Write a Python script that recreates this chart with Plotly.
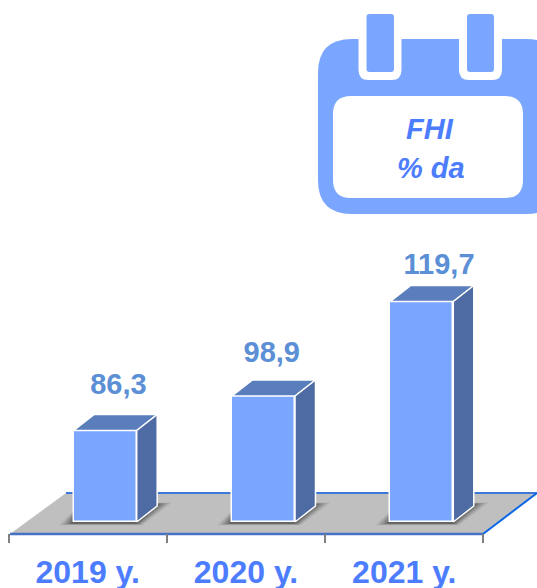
import plotly.graph_objects as go

categories = ["2019 y.", "2020 y.", "2021 y."]
value_labels = ["86,3", "98,9", "119,7"]
# Drawn bar heights (the reference is not proportional to its labels)
bar_heights = [91.5, 126, 220.5]
label_shift_x = [3, -2, 7]
label_shift_y = [28, 25, 19]

W, H = 537, 588
MB = 45
UX = 158.3
X0 = 87.7
BASE_PX = 522
BLUE = "#7AA6FF"
TOP = "#5A7DBB"
SIDE = "#4F6BA3"
WHITE = "#FFFFFF"
TXT = "#4D7DFF"
VAL = "#5B8FD6"

def ux(px):
    return (px - X0) / UX

def uy(px):
    return BASE_PX - px

def path_data(pts):
    return "M " + " L ".join(f"{ux(a):.4f},{uy(b):.2f}" for a, b in pts) + " Z"

def rrect(x0, y0, x1, y1, r):
    return (f"M{x0+r},{y0} L{x1-r},{y0} Q{x1},{y0} {x1},{y0+r} L{x1},{y1-r} Q{x1},{y1} {x1-r},{y1} "
            f"L{x0+r},{y1} Q{x0},{y1} {x0},{y1-r} L{x0},{y0+r} Q{x0},{y0} {x0+r},{y0} Z")

def to_data_path(s):
    # converts a pixel path to the axis coordinates
    out = []
    for tok in s.replace("M", "M ").replace("L", " L ").replace("Q", " Q ").replace("Z", " Z").split():
        if "," in tok:
            a, b = tok.split(",")
            out.append(f"{ux(float(a)):.4f},{uy(float(b)):.2f}")
        else:
            out.append(tok)
    return " ".join(out)

shapes = []
def add(path, fill, line_color=None, lw=0, layer="below"):
    shapes.append(dict(type="path", path=path, xref="x", yref="y", fillcolor=fill, layer=layer,
                       line=dict(color=line_color or fill, width=lw)))

def line(p, q, color, w):
    shapes.append(dict(type="line", xref="x", yref="y", x0=ux(p[0]), y0=uy(p[1]), x1=ux(q[0]), y1=uy(q[1]),
                       layer="below", line=dict(color=color, width=w)))

# floor
add(path_data([(10, 534), (66, 493), (537, 493), (483, 534)]), "#BFBFBF")
line((66, 493), (537, 493), "#3B78D8", 2)
line((483, 534), (537, 493), "#0A66E8", 2)
line((10, 534), (483, 534), "#4472C4", 2.5)

BAR_W = 63
OFF = 17.5 / UX
DX, DY = 20.5, 16

# soft shadows under the bars
for i in range(len(categories)):
    left = X0 + UX * i + 17.5 - BAR_W / 2
    right = left + BAR_W
    for g, alpha in [(14, 0.08), (11, 0.12), (8, 0.16), (5, 0.2), (2, 0.28)]:
        add(path_data([(left - 1 - g, 523.5 + g * 0.12), (right + g * 0.4, 523.5 + g * 0.12),
                       (right + DX + 1 + g, 504 - g * 0.1), (right + DX - 8, 504 - g * 0.1),
                       (right - 10, 516), (left, 516 - g * 0.4)]),
            f"rgba(40,40,40,{alpha})")

# calendar icon (white gaps, then pegs and the label panel)
add(to_data_path(rrect(318, 39, 560, 214, 34)), BLUE)
for n0, n1, p0, p1 in [(358.5, 401.5, 366.5, 394), (459, 502, 467, 494)]:
    add(to_data_path(f"M{n0},30 L{n1},30 L{n1},70 Q{n1},80 {n1-10},80 L{n0+10},80 Q{n0},80 {n0},70 Z"), WHITE)
    add(to_data_path(rrect(p0, 14, p1, 72, 3)), BLUE)
add(to_data_path(rrect(333, 96, 523, 198, 18)), WHITE)

fig = go.Figure()
x_pos = [i + OFF for i in range(len(categories))]
half = BAR_W / 2 / UX
fig.add_bar(x=x_pos, y=bar_heights, width=BAR_W / UX, marker=dict(color=BLUE, line=dict(color=WHITE, width=1.5)),
            hoverinfo="skip", showlegend=False)

dxu = DX / UX
for x, h in zip(x_pos, bar_heights):
    fig.add_scatter(x=[x - half, x + half, x + half + dxu, x - half + dxu, x - half],
                    y=[h, h, h + DY, h + DY, h], mode="lines", fill="toself", fillcolor=TOP,
                    line=dict(color=WHITE, width=1.5), hoverinfo="skip", showlegend=False)
    fig.add_scatter(x=[x + half, x + half + dxu, x + half + dxu, x + half, x + half],
                    y=[0, DY, h + DY, h, 0], mode="lines", fill="toself", fillcolor=SIDE,
                    line=dict(color=WHITE, width=1.5), hoverinfo="skip", showlegend=False)

fig.add_scatter(x=[x + dxu / 2 + s / UX for x, s in zip(x_pos, label_shift_x)],
                y=[h + DY + s for h, s in zip(bar_heights, label_shift_y)], mode="text", text=value_labels,
                textposition="middle center",
                textfont=dict(family="Liberation Sans", size=29, color=VAL, weight="bold"),
                hoverinfo="skip", showlegend=False)

annotations = [
    dict(x=ux(430), y=uy(129), xref="x", yref="y", text="<b><i>FHI</i></b>", showarrow=False,
         font=dict(family="Liberation Sans", size=29, color=TXT)),
    dict(x=ux(431), y=uy(168), xref="x", yref="y", text="<b><i>% da</i></b>", showarrow=False,
         font=dict(family="Liberation Sans", size=29, color=TXT)),
]

fig.update_layout(
    width=W, height=H, margin=dict(l=0, r=0, t=0, b=MB, autoexpand=False),
    paper_bgcolor="white", plot_bgcolor="white", bargap=0, shapes=shapes, annotations=annotations,
    xaxis=dict(range=[ux(0), ux(W)], tickmode="array", tickvals=list(range(len(categories))), ticktext=categories,
               ticks="", showgrid=False, zeroline=False, showline=False,
               tickfont=dict(family="Liberation Sans", size=32, color=TXT, weight="bold"),
               ticklabelstandoff=7,
               minor=dict(tickmode="array", tickvals=[-0.5, 0.5, 1.5, 2.5], ticks="inside", ticklen=9,
                          tickwidth=1.5, tickcolor="#808080", showgrid=False)),
    yaxis=dict(range=[uy(H - MB), uy(0)], visible=False, fixedrange=True),
    showlegend=False,
)
fig.write_html("out.html", config=dict(displayModeBar=False),
               post_script="document.body.style.margin='0';document.documentElement.style.overflow='hidden';")
